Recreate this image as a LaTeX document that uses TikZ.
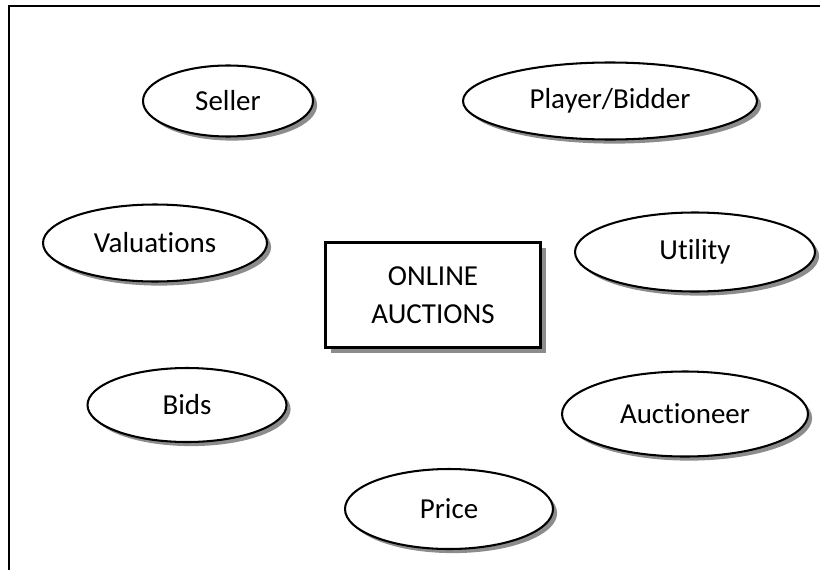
\documentclass[tikz,border=0pt]{standalone}
\usepackage{fontspec}
\setmainfont{Carlito}[Ligatures=NoCommon]
\usetikzlibrary{shapes.geometric,shadows}
\newcommand{\px}{0.39pt}
\tikzset{
    topic/.style={ellipse, draw=black, line width=0.8pt, fill=white, inner sep=0pt,
        drop shadow={shadow xshift=1.6pt, shadow yshift=-1.6pt, fill=gray!90, opacity=1},
        font=\fontsize{11.3}{13}\selectfont},
    mainbox/.style={rectangle, draw=black, line width=0.8pt, fill=white, inner sep=0pt,
        align=center, drop shadow={shadow xshift=2pt, shadow yshift=-2pt, fill=gray!90, opacity=1},
        font=\fontsize{11.3}{15}\selectfont}
}
\begin{document}
\begin{tikzpicture}[x=\px, y=-\px]
    \useasboundingbox (0,0) rectangle (820,569);
    \clip (0,0) rectangle (820,569);
    % frame, cut off at the right and bottom
    \draw[line width=0.8pt] (9,6) rectangle (840,590);
    % centre box
    \node[mainbox, minimum width=215*\px, minimum height=105*\px] (auctions) at (433,295) {ONLINE\\AUCTIONS};
    % topics round it
    \node[topic, minimum width=170*\px, minimum height=71*\px] (seller) at (228,101) {Seller};
    \node[topic, minimum width=294*\px, minimum height=77*\px] (bidder) at (610,101) {Player/Bidder};
    \node[topic, minimum width=224*\px, minimum height=77*\px] (valuations) at (155,243) {Valuations};
    \node[topic, minimum width=240*\px, minimum height=79*\px] (utility) at (695,252) {Utility};
    \node[topic, minimum width=199*\px, minimum height=74*\px] (bids) at (187,405) {Bids};
    \node[topic, minimum width=246*\px, minimum height=85*\px] (auctioneer) at (685,414) {Auctioneer};
    \node[topic, minimum width=208*\px, minimum height=80*\px] (price) at (449,509) {Price};
\end{tikzpicture}
\end{document}
